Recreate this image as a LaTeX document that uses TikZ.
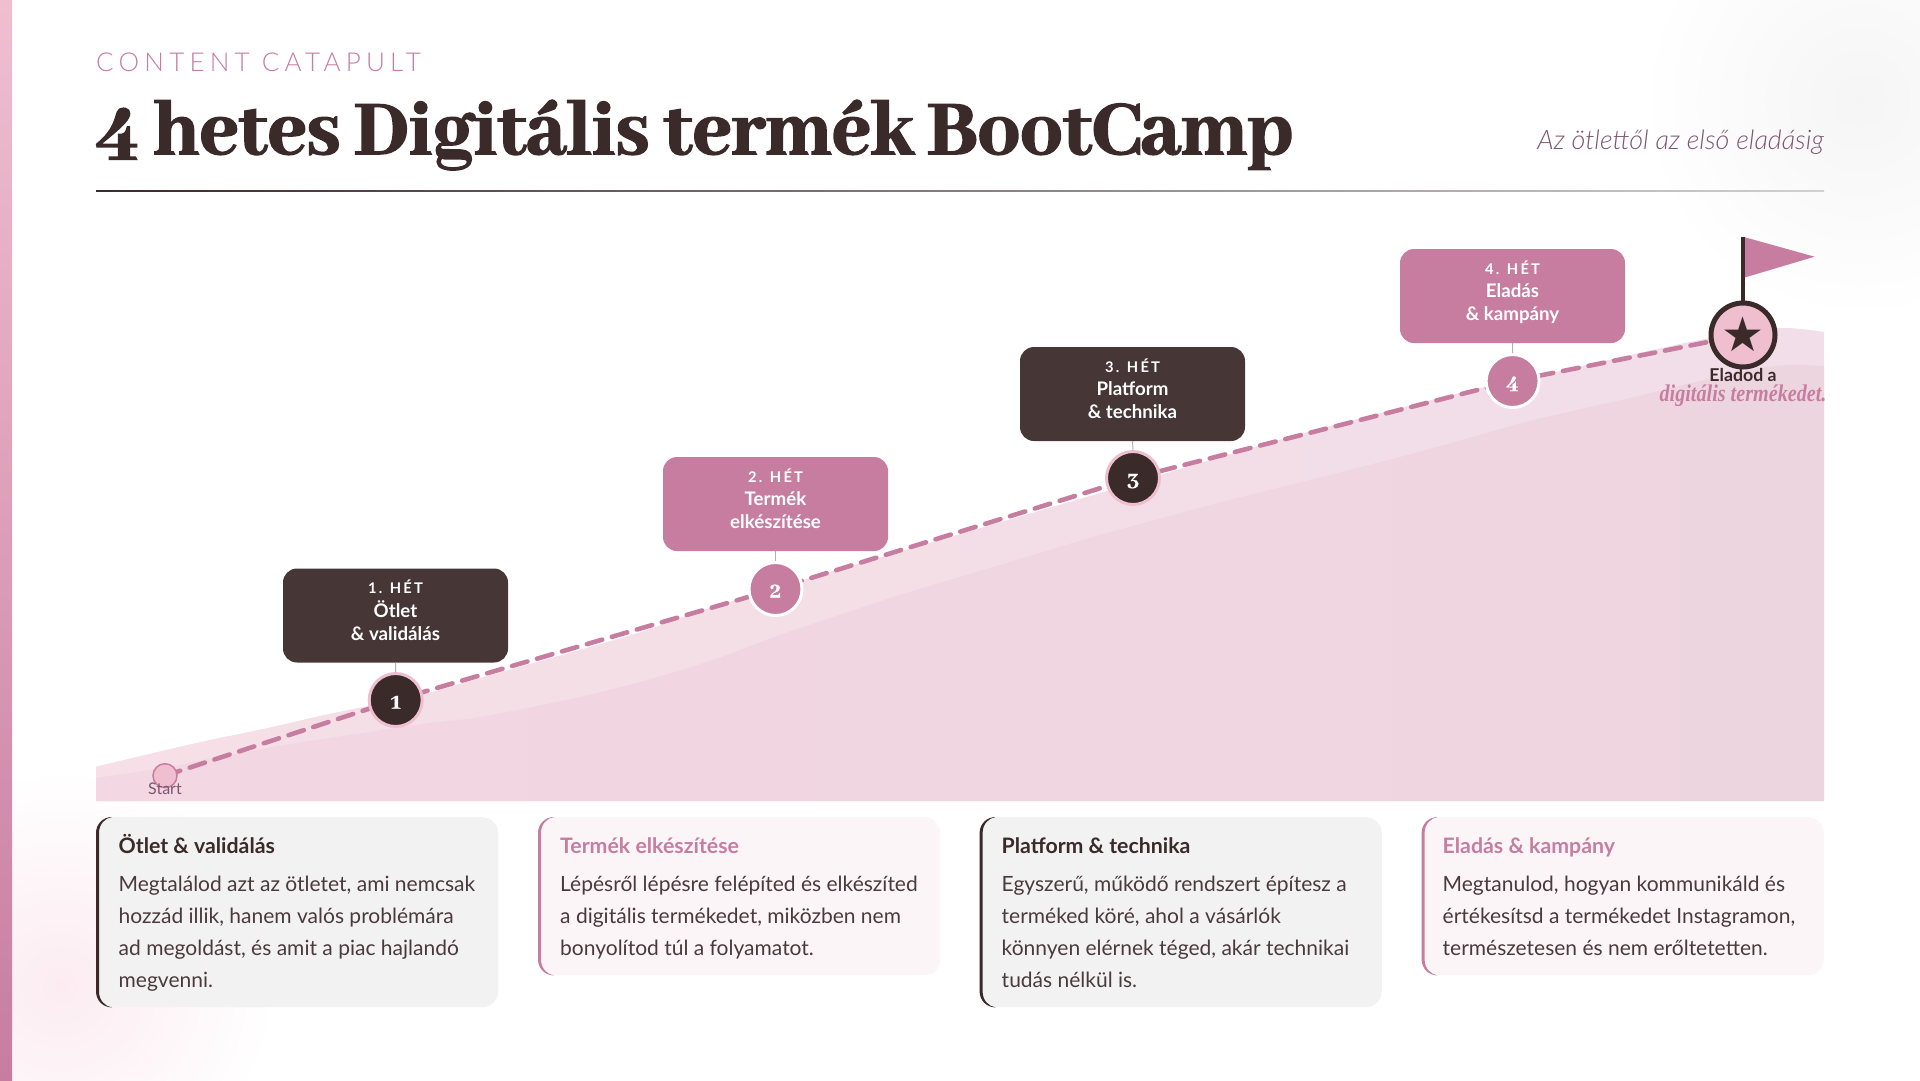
\documentclass[tikz,border=0pt]{standalone}
\usepackage{fontspec}
\usetikzlibrary{calc}
\setmainfont{Lato}
\newfontfamily\latolight{Lato Light}
\newfontfamily\titlefont[FakeBold=1.8,LetterSpace=-0.6,WordSpace=0.85]{Abhaya Libre ExtraBold}
\newfontfamily\numfont[FakeBold=0.6]{Abhaya Libre ExtraBold}
\newfontfamily\dejavu{DejaVu Sans}
\newfontfamily\scriptit[FakeStretch=0.84]{Liberation Serif}
\definecolor{ink}{HTML}{3A2A2A}
\definecolor{inkbox}{HTML}{463636}
\definecolor{rose}{HTML}{C77DA0}
\definecolor{blush}{HTML}{EFBFD0}
\definecolor{areaAl}{HTML}{F6DFE7}
\definecolor{areaAr}{HTML}{F1DEE8}
\definecolor{areaBl}{HTML}{F3D7E2}
\definecolor{areaBr}{HTML}{EDD5E0}
\definecolor{bodyc}{HTML}{4A3A3D}
\definecolor{subc}{HTML}{7E566C}
\pgfdeclareradialshading{blobpink}{\pgfpoint{0bp}{0bp}}{rgb(0bp)=(.988,.925,.945);rgb(25bp)=(1,1,1);rgb(50bp)=(1,1,1)}
\pgfdeclareradialshading{blobgrey}{\pgfpoint{0bp}{0bp}}{rgb(0bp)=(.962,.962,.962);rgb(25bp)=(1,1,1);rgb(50bp)=(1,1,1)}
\tikzset{
  x=1pt,y=-1pt,
  bubble/.style={rectangle,rounded corners=14pt,minimum width=225pt,minimum height=94pt,inner sep=0pt,align=center,text=white,font=\fontsize{18.7}{23}\bfseries\selectfont},
  bubdark/.style={bubble,fill=inkbox},
  bubrose/.style={bubble,fill=rose},
  stem/.style={draw=black!30,line width=1pt},
  disc/.style={circle,minimum size=53pt,inner sep=0pt,line width=3pt,font=\fontsize{24}{24}\numfont,text=white,text height=17pt,text depth=0pt},
  discdark/.style={disc,fill=ink,draw=blush},
  discrose/.style={disc,fill=rose,draw=white},
  card/.style={rectangle,rounded corners=16pt,minimum width=402pt,inner sep=0pt,anchor=north west},
  cardink/.style={card,fill=black!5},
  cardrose/.style={card,fill=rose!12,fill opacity=.6},
  cardhead/.style={anchor=base west,inner sep=0pt,font=\fontsize{21.3}{26}\bfseries\selectfont},
  cardbody/.style={anchor=north west,inner sep=0pt,align=left,text=bodyc,font=\fontsize{21}{32}\selectfont},
  dashline/.style={draw=rose,line width=4.6pt,line cap=round,dash pattern=on 16pt off 10pt},
}
\newcommand{\weekbub}[2]{{\fontsize{14.7}{23}\selectfont\addfontfeature{LetterSpace=15}\strut #1}\\\strut #2}
\newcommand{\crescent}[2]{% card name, colour
  \fill[#2] ($(#1.north west)+(16,0)$) .. controls ($(#1.north west)+(7,0)$) and ($(#1.north west)+(0,7)$) .. ($(#1.north west)+(0,16)$)
    -- ($(#1.south west)+(0,-16)$) .. controls ($(#1.south west)+(0,-7)$) and ($(#1.south west)+(7,0)$) .. ($(#1.south west)+(16,0)$)
    .. controls ($(#1.south west)+(9,-1)$) and ($(#1.south west)+(3,-7)$) .. ($(#1.south west)+(3,-16)$)
    -- ($(#1.north west)+(3,16)$) .. controls ($(#1.north west)+(3,7)$) and ($(#1.north west)+(9,1)$) .. ($(#1.north west)+(16,0)$) -- cycle;
}
\begin{document}
\begin{tikzpicture}
\useasboundingbox (0,0) rectangle (1920,1080);
\begin{scope}
\clip (0,0) rectangle (1920,1080);
\shade[shading=blobpink] (60,985) circle (215);
\shade[shading=blobgrey] (1860,100) circle (220);
\end{scope}
\shade[top color=blush,bottom color=rose,draw=none] (0,0) rectangle (12,1080);
% header
\node[anchor=base west,inner sep=0pt,text=rose,font=\fontsize{26}{26}\latolight\addfontfeature{LetterSpace=20}] (kicker) at (96,71) {CONTENT CATAPULT};
\node[anchor=base west,inner sep=0pt,text=ink,font=\fontsize{84.5}{84.5}\titlefont] (title) at (96,154) {4 hetes Digitális termék BootCamp};
\node[anchor=base east,inner sep=0pt,text=subc,font=\fontsize{26.9}{26.9}\latolight\itshape] (subtitle) at (1824,149) {Az ötlettől az első eladásig};
\shade[left color=ink,right color=black!18] (96,190) rectangle (1824,191);
% areas
\shade[left color=areaAl,right color=areaAr] plot[smooth,tension=.5] coordinates {(96,766.7) (196,743) (263,729) (329,714) (420,695) (480,678) (597,645) (647,630) (697,612) (803,580) (950,537) (1100,493) (1160,475) (1297,435) (1463,392) (1543,375) (1630,355) (1700,340) (1776,328) (1824,332)} -- (1824,801) -- (96,801) -- cycle;
\shade[left color=areaBl,right color=areaBr] plot[smooth,tension=.5] coordinates {(96,778) (163,768) (229,755) (296,743) (363,733) (429,723) (480,717) (580,697) (647,680) (713,660) (780,635) (900,595) (1000,565) (1100,535) (1230,500) (1330,475) (1430,449) (1530,421) (1630,398) (1700,381) (1760,368) (1793,365) (1824,366)} -- (1824,801) -- (96,801) -- cycle;
% nodes on the path
\coordinate (startc) at (165,775.7);
\coordinate (c1) at (395.7,700);
\coordinate (c2) at (775.5,589);
\coordinate (c3) at (1133,478);
\coordinate (c4) at (1512.6,381);
\coordinate (c5) at (1743,335);
\draw[dashline] (startc) -- (c1) -- (c2) -- (c3) -- (c4) -- (c5);
\node[circle,minimum size=24pt,inner sep=0pt,fill=blush,draw=rose,line width=1.5pt] (start) at (startc) {};
\node[anchor=base,inner sep=0pt,text=subc,font=\fontsize{16}{16}\selectfont] (startl) at (165,794) {Start};
\node[bubdark] (b1) at (395.5,615.5) {\weekbub{1. HÉT}{Ötlet}\\\strut\& validálás\rule[-12.9pt]{0pt}{1pt}};
\node[bubrose] (b2) at (775.5,504) {\weekbub{2. HÉT}{Termék}\\\strut elkészítése\rule[-12.9pt]{0pt}{1pt}};
\node[bubdark] (b3) at (1132.5,394) {\weekbub{3. HÉT}{Platform}\\\strut\& technika\rule[-12.9pt]{0pt}{1pt}};
\node[bubrose] (b4) at (1512.5,296) {\weekbub{4. HÉT}{Eladás}\\\strut\& kampány\rule[-12.9pt]{0pt}{1pt}};
\node[discdark] (n1) at (c1) {1};
\node[discrose] (n2) at (c2) {2};
\node[discdark] (n3) at (c3) {3};
\node[discrose] (n4) at (c4) {4};
\draw[stem] (b1.south) -- (n1.north);
\draw[stem] (b2.south) -- (n2.north);
\draw[stem] (b3.south) -- (n3.north);
\draw[stem] (b4.south) -- (n4.north);
% goal
\coordinate (flagtop) at (1743,237);
\fill[rose] (1744,237) -- (1814.6,256.7) -- (1744,277.7) -- cycle;
\node[circle,minimum size=64pt,inner sep=0pt,fill=blush,draw=ink,line width=5pt,text=ink] (goal) at (c5) {\raisebox{1pt}{\fontsize{48}{48}\dejavu ★}};
\draw[ink,line width=4pt] (flagtop) -- (goal.north);
\node[anchor=base,inner sep=0pt,text=ink,font=\fontsize{17.7}{17.7}\bfseries\selectfont] (goal1) at (1743,381.7) {Eladod a};
\begin{scope}
\clip (1600,380) rectangle (1824,420);
\node[anchor=base,inner sep=0pt,text=rose,font=\fontsize{24}{24}\scriptit\itshape\bfseries] (goal2) at (1743,401.7) {digitális termékedet.};
\end{scope}
% cards
\node[cardink,minimum height=190pt] (k1) at (96,817) {};
\node[cardrose,minimum height=158pt] (k2) at (538,817) {};
\node[cardink,minimum height=190pt] (k3) at (979.6,817) {};
\node[cardrose,minimum height=158pt] (k4) at (1421.6,817) {};
\crescent{k1}{ink}
\crescent{k2}{rose}
\crescent{k3}{ink}
\crescent{k4}{rose}
\node[cardhead,text=ink] (h1) at (118.5,853) {Ötlet \& validálás};
\node[cardhead,text=rose] (h2) at (560,853) {Termék elkészítése};
\node[cardhead,text=ink] (h3) at (1001.5,853) {Platform \& technika};
\node[cardhead,text=rose] (h4) at (1442.5,853) {Eladás \& kampány};
\node[cardbody] (t1) at (118.5,868.6) {\strut Megtalálod azt az ötletet, ami nemcsak\\hozzád illik, hanem valós problémára\\ad megoldást, és amit a piac hajlandó\\megvenni.};
\node[cardbody] (t2) at (560,868.6) {\strut Lépésről lépésre felépíted és elkészíted\\a digitális termékedet, miközben nem\\bonyolítod túl a folyamatot.};
\node[cardbody] (t3) at (1001.5,868.6) {\strut Egyszerű, működő rendszert építesz a\\terméked köré, ahol a vásárlók\\könnyen elérnek téged, akár technikai\\tudás nélkül is.};
\node[cardbody] (t4) at (1442.5,868.6) {\strut Megtanulod, hogyan kommunikáld és\\értékesítsd a termékedet Instagramon,\\természetesen és nem erőltetetten.};
\end{tikzpicture}
\end{document}
